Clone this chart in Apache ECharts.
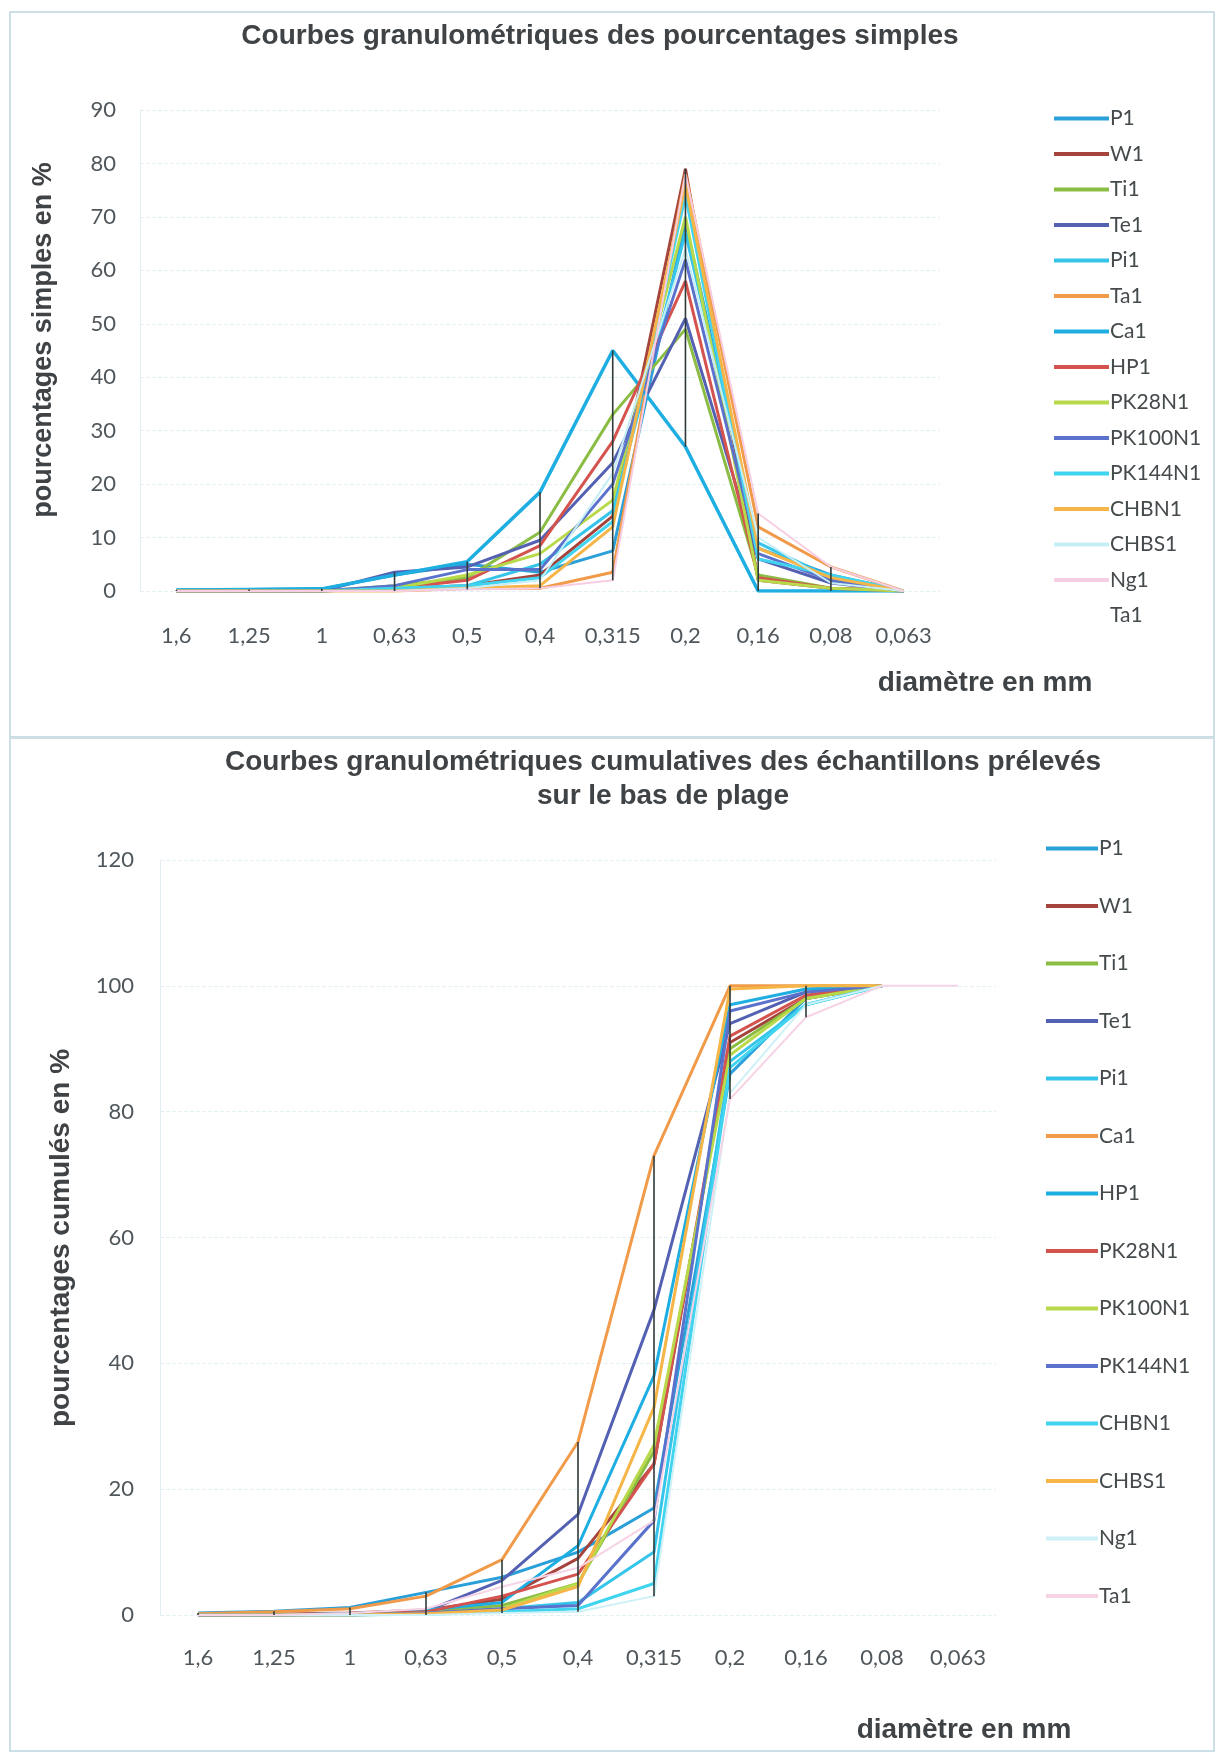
<!DOCTYPE html>
<html><head><meta charset="utf-8">
<script src="https://cdn.jsdelivr.net/npm/echarts@6/dist/echarts.min.js"></script>
<style>
html,body{margin:0;padding:0;background:#fff;}
#top{position:absolute;left:0;top:0;width:1215px;height:738px;}
#bot{position:absolute;left:0;top:738px;width:1215px;height:1014px;}
</style>
</head><body>
<div id="top"></div><div id="bot"></div>
<script>
// ---------- shared categories ----------
const categories = ['1,6','1,25','1','0,63','0,5','0,4','0,315','0,2','0,16','0,08','0,063'];
const yTicksTop = [0,10,20,30,40,50,60,70,80,90];
const yTicksBot = [0,20,40,60,80,100,120];

// ---------- chart 1 : simple percentages ----------
const s_P1      = [0.2,0.3,0.4,3,5,3.5,7.5,69,8,3,0];
const s_W1      = [0,0,0,0.5,1,3,14,79,2,0.5,0];
const s_Ti1     = [0,0,0,1,2.5,11,33,49,3,0.5,0];
const s_Te1     = [0,0,0,3.5,4.5,9.5,24,51,6,1.5,0];
const s_Pi1     = [0,0,0,0.5,1,5,15,67,9,2.5,0];
const s_Ta1     = [0,0,0,0,0.5,0.5,3.5,78,12,4.5,0];
const s_Ca1     = [0.2,0.3,0.4,3,5.5,18.5,45,27,0,0,0];
const s_HP1     = [0,0,0,0.5,2,8.5,28,58,2.5,0.5,0];
const s_PK28N1  = [0,0,0,0.5,3,7,17,70,2,0.5,0];
const s_PK100N1 = [0,0,0,1,4,4,20,62,7,2,0];
const s_PK144N1 = [0,0,0,0.5,1,2.5,13,74,6,3,0];
const s_CHBN1   = [0,0,0,0,0.5,1,12,76,8,2.5,0];
const s_CHBS1   = [0,0,0,0,0.5,2,22,64,10,1.5,0];
const s_Ng1     = [0,0,0,0,0.3,0.5,2,78,14.5,4.5,0];
const s_Ta1b    = [null,null,null,null,null,null,null,null,null,null,null];

const simpleNames  = ['P1','W1','Ti1','Te1','Pi1','Ta1','Ca1','HP1','PK28N1','PK100N1','PK144N1','CHBN1','CHBS1','Ng1','Ta1 '];
const simpleData   = [s_P1,s_W1,s_Ti1,s_Te1,s_Pi1,s_Ta1,s_Ca1,s_HP1,s_PK28N1,s_PK100N1,s_PK144N1,s_CHBN1,s_CHBS1,s_Ng1,s_Ta1b];
const simpleColors = ['#2a9fd8','#a5443c','#8bbd45','#5461b3','#35c5ea','#f09a4a','#1eaee2','#d4534e','#b8d94a','#5a72cc','#40d4f0','#f5b547','#c6eef7','#f6cde2','rgba(255,255,255,0)'];

// ---------- chart 2 : cumulative percentages ----------
const c_P1      = [0.3,0.6,1.2,3.6,6,10,17,86,98,100,null];
const c_W1      = [0,0.1,0.3,0.8,2.5,9,24,91,98,100,null];
const c_Ti1     = [0,0,0.2,0.5,1.5,5,26,90,98,100,null];
const c_Te1     = [0,0,0.2,0.6,5.5,16,48.5,94,99,100,null];
const c_Pi1     = [0,0,0,0.2,1,2,10,88,97,100,null];
const c_Ca1     = [0.2,0.5,1,3,8.8,27.5,73,100,100,100,null];
const c_HP1     = [0,0,0.2,0.8,2,11,38,97,99.5,100,null];
const c_PK28N1  = [0,0,0.1,0.5,3,6.5,24,92,98.5,100,null];
const c_PK100N1 = [0,0,0,0.3,1,5,27,89,98,100,null];
const c_PK144N1 = [0,0,0,0.3,1,1.5,15,96,99,100,null];
const c_CHBN1   = [0,0,0,0.1,0.5,1,5,87,97,100,null];
const c_CHBS1   = [0,0,0,0.2,0.8,4.5,33,99.5,100,100,null];
const c_Ng1     = [0,0,0,0,0.3,0.5,3,83,97,100,null];
const c_Ta1     = [0,0,0.3,1,4.5,7.5,15,82,95,100,100];

const cumulNames  = ['P1','W1','Ti1','Te1','Pi1','Ca1','HP1','PK28N1','PK100N1','PK144N1','CHBN1','CHBS1','Ng1','Ta1'];
const cumulData   = [c_P1,c_W1,c_Ti1,c_Te1,c_Pi1,c_Ca1,c_HP1,c_PK28N1,c_PK100N1,c_PK144N1,c_CHBN1,c_CHBS1,c_Ng1,c_Ta1];
const cumulColors = ['#2a9fd8','#a5443c','#8bbd45','#5461b3','#35c5ea','#f09a4a','#1eaee2','#d4534e','#b8d94a','#5a72cc','#40d4f0','#f5b547','#cdf1f7','#f7d3e6'];

// ---------- helpers ----------
function highLow(dataSets) {
  return categories.map((c, i) => {
    const vals = dataSets.map(d => d[i]).filter(v => v !== null && v !== undefined);
    return [i, Math.min.apply(null, vals), Math.max.apply(null, vals)];
  });
}
function hlRender(params, api) {
  const x = api.value(0);
  const p1 = api.coord([x, api.value(1)]);
  const p2 = api.coord([x, api.value(2)]);
  return {type: 'line', shape: {x1: p1[0], y1: p1[1], x2: p2[0], y2: p2[1]},
          style: {stroke: '#2f3a3a', lineWidth: 1.6}};
}
function lineSeries(names, data, colors, widths) {
  return names.map((n, i) => ({
    name: n, type: 'line', data: data[i], symbol: 'none', smooth: false,
    color: colors[i], lineStyle: {width: widths ? widths[i] : 3, color: colors[i]},
    connectNulls: false, z: 2
  }));
}
const tickFont = {fontFamily: 'Lato', fontSize: 22, color: '#4f575c'};
const boldText = (x, y, text, size, rot) => ({
  type: 'text', x: x, y: y, rotation: rot || 0,
  style: {text: text, font: 'bold ' + size + 'px "Liberation Sans", Arial, sans-serif',
          fill: '#3f4346', align: 'center', verticalAlign: 'middle'}
});

// ---------- chart 1 ----------
const topChart = echarts.init(document.getElementById('top'), null, {renderer: 'canvas'});
topChart.setOption({
  animation: false,
  backgroundColor: '#fff',
  grid: {left: 140, top: 110, width: 800, height: 481},
  legend: {
    orient: 'vertical', left: 1049, top: 103, itemWidth: 55, itemHeight: 4, itemGap: 14.5,
    icon: 'rect', data: simpleNames,
    textStyle: {fontFamily: 'Lato', fontSize: 21, color: '#454a4d', padding: [0, 0, 0, -4]}
  },
  xAxis: {
    type: 'category', data: categories, boundaryGap: true,
    axisLine: {show: false}, axisTick: {show: false},
    axisLabel: Object.assign({margin: 34, interval: 0}, tickFont)
  },
  yAxis: {
    type: 'value', min: 0, max: 90, interval: 10,
    axisLine: {show: true, lineStyle: {color: '#e3eef2'}},
    axisLabel: Object.assign({margin: 24, formatter: v => yTicksTop.includes(v) ? String(v) : ''}, tickFont),
    splitLine: {lineStyle: {color: '#e3f1f5', type: 'dashed', width: 1}}
  },
  series: lineSeries(simpleNames, simpleData, simpleColors,
      [3,3,3,3,3,3,3.5,3,3,3,3,3,2,2,1]).concat([{
    type: 'custom', name: 'hl', renderItem: hlRender, data: highLow(simpleData.slice(0, 14)),
    encode: {x: 0, y: [1, 2]}, z: 5, silent: true
  }]),
  graphic: [
    {type: 'rect', shape: {x: 10, y: 12, width: 1204, height: 725},
     style: {fill: 'none', stroke: '#bcd3de', lineWidth: 1.5}, silent: true},
    boldText(600, 36, 'Courbes granulométriques des pourcentages simples', 28),
    boldText(44, 340, 'pourcentages simples en %', 27, Math.PI / 2),
    boldText(985, 683, 'diamètre en mm', 28)
  ]
});

// ---------- chart 2 ----------
const botChart = echarts.init(document.getElementById('bot'), null, {renderer: 'canvas'});
botChart.setOption({
  animation: false,
  backgroundColor: '#fff',
  grid: {left: 160, top: 122, width: 836, height: 755},
  legend: {
    orient: 'vertical', left: 1041, top: 95, itemWidth: 52, itemHeight: 4, itemGap: 36.5,
    icon: 'rect', data: cumulNames,
    textStyle: {fontFamily: 'Lato', fontSize: 21, color: '#454a4d', padding: [0, 0, 0, -4]}
  },
  xAxis: {
    type: 'category', data: categories, boundaryGap: true,
    axisLine: {show: false}, axisTick: {show: false},
    axisLabel: Object.assign({margin: 32, interval: 0}, tickFont)
  },
  yAxis: {
    type: 'value', min: 0, max: 120, interval: 20,
    axisLine: {show: true, lineStyle: {color: '#e3eef2'}},
    axisLabel: Object.assign({margin: 26, formatter: v => yTicksBot.includes(v) ? String(v) : ''}, tickFont),
    splitLine: {lineStyle: {color: '#e3f1f5', type: 'dashed', width: 1}}
  },
  series: lineSeries(cumulNames, cumulData, cumulColors,
      [3,3,3,3,3,3,3,3,3,3,3,3,2,2]).concat([{
    type: 'custom', name: 'hl', renderItem: hlRender, data: highLow(cumulData),
    encode: {x: 0, y: [1, 2]}, z: 5, silent: true
  }]),
  graphic: [
    {type: 'rect', shape: {x: 10, y: 0, width: 1204, height: 1013},
     style: {fill: 'none', stroke: '#bcd3de', lineWidth: 1.5}, silent: true},
    boldText(663, 24, 'Courbes granulométriques cumulatives des échantillons prélevés', 28),
    boldText(663, 58, 'sur le bas de plage', 28),
    boldText(61, 500, 'pourcentages cumulés en %', 28, Math.PI / 2),
    boldText(964, 992, 'diamètre en mm', 28)
  ]
});
</script>
</body></html>
